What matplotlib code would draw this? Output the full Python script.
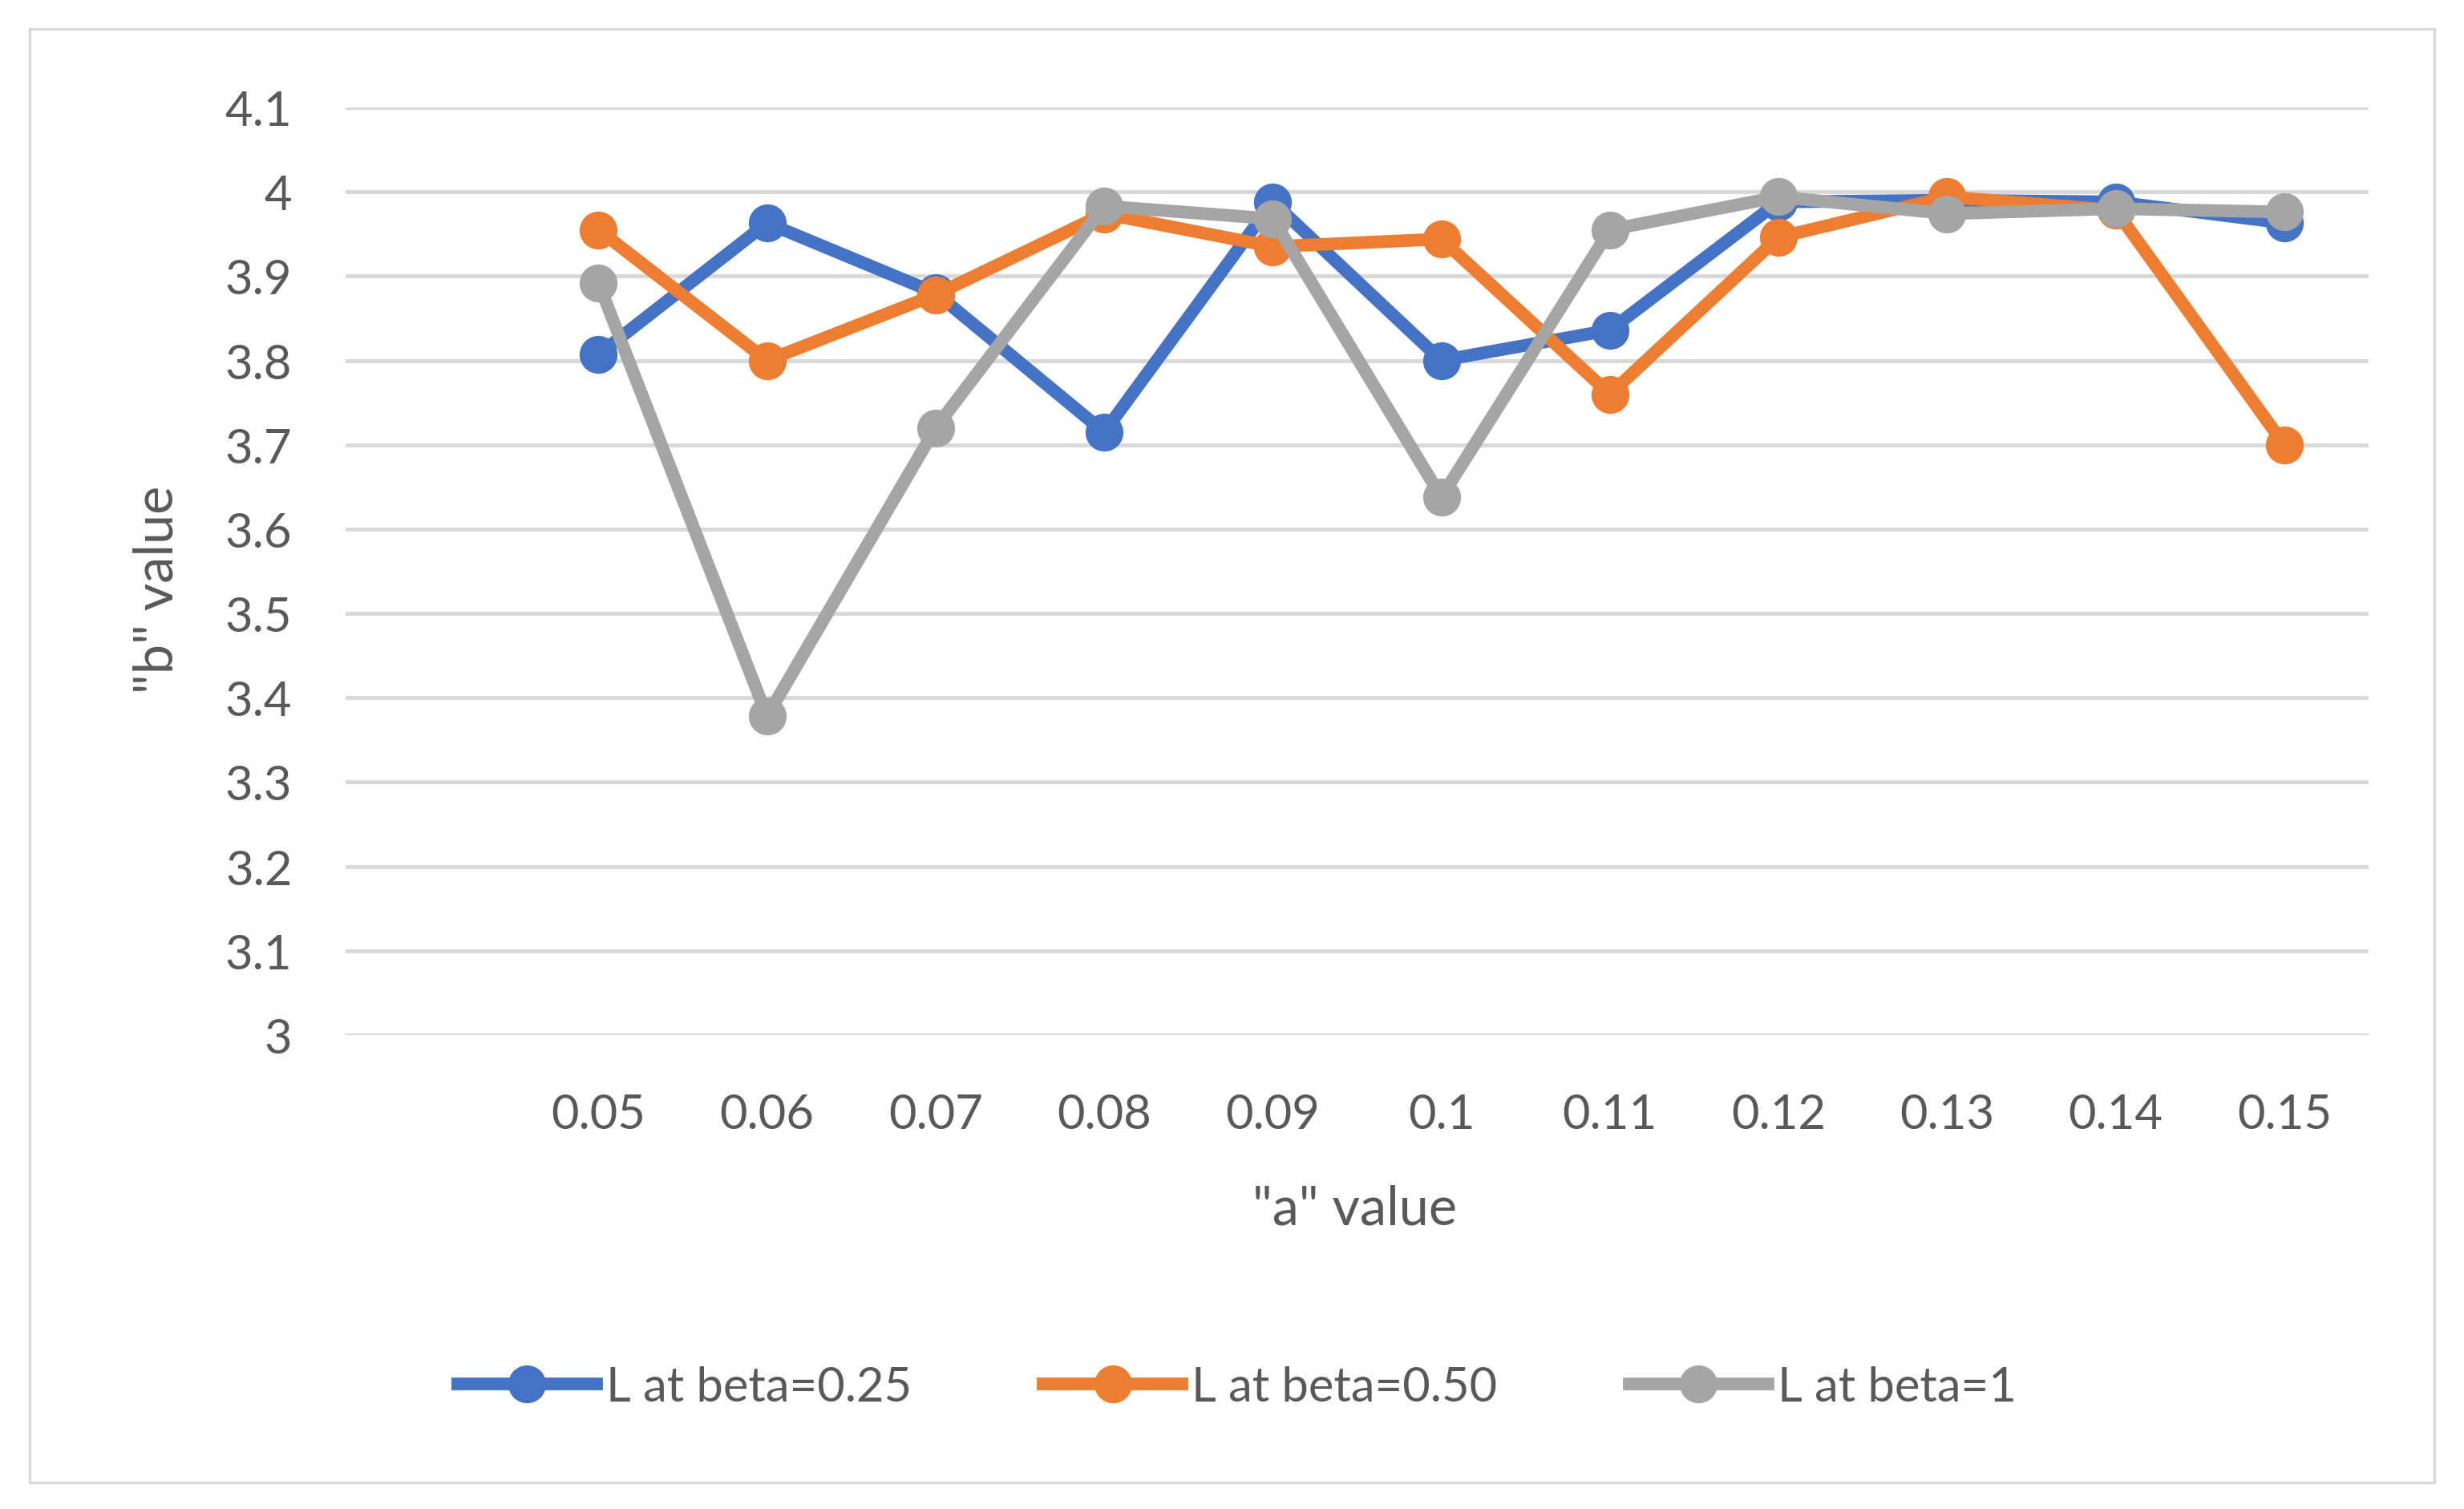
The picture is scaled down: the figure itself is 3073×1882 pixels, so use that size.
import matplotlib
matplotlib.use("Agg")
import matplotlib.pyplot as plt
from matplotlib.patches import Rectangle

plt.rcParams['font.family'] = ['Lato', 'DejaVu Sans']

# data
a_labels = ["0.05", "0.06", "0.07", "0.08", "0.09", "0.1", "0.11", "0.12", "0.13", "0.14", "0.15"]
beta_025 = [3.807, 3.963, 3.880, 3.715, 3.988, 3.800, 3.836, 3.988, 3.990, 3.988, 3.963]
beta_050 = [3.955, 3.800, 3.878, 3.974, 3.935, 3.944, 3.760, 3.946, 3.994, 3.978, 3.700]
beta_1 = [3.892, 3.378, 3.720, 3.983, 3.968, 3.638, 3.955, 3.994, 3.974, 3.980, 3.976]
y_ticks = [3, 3.1, 3.2, 3.3, 3.4, 3.5, 3.6, 3.7, 3.8, 3.9, 4, 4.1]
y_tick_labels = ["3", "3.1", "3.2", "3.3", "3.4", "3.5", "3.6", "3.7", "3.8", "3.9", "4", "4.1"]

txt = '#595959'
W, H = 3073, 1883
fig = plt.figure(figsize=(W / 200, H / 200), dpi=200)

# chart border
fig.patches.append(Rectangle((37 / W, 33 / H), (3036 - 37) / W, (1850 - 37) / H,
                             transform=fig.transFigure, fill=False,
                             edgecolor='#D9D9D9', linewidth=1.2))

ax = fig.add_axes([431 / W, 1 - 1292 / H, (2954 - 431) / W, (1292 - 135) / H])

# first category slot is empty in the original
x = list(range(1, len(a_labels) + 1))
series = [(beta_025, '#4472C4', 'L at beta=0.25'),
          (beta_050, '#ED7D31', 'L at beta=0.50'),
          (beta_1, '#A5A5A5', 'L at beta=1')]
for i, (vals, col, lab) in enumerate(series):
    ax.plot(x, vals, color=col, lw=5.7, marker='o', ms=16, label=lab,
            zorder=3 + i, solid_joinstyle='round')

ax.set_xlim(-0.5, len(a_labels) + 0.5)
ax.set_ylim(3, 4.1)
ax.set_yticks(y_ticks)
ax.set_yticklabels(y_tick_labels)
ax.set_xticks(x)
ax.set_xticklabels(a_labels)
ax.grid(axis='y', color='#D9D9D9', lw=1.8, zorder=0)
ax.set_axisbelow(True)
for s in ax.spines.values():
    s.set_visible(False)
ax.tick_params(length=0, labelsize=21.5, labelcolor=txt)
ax.tick_params(axis='y', pad=24)
ax.tick_params(axis='x', pad=26)

fig.text(1690 / W, 1 - 1509 / H, '"a" value', ha='center', va='center',
         fontsize=24, color=txt)
fig.text(196 / W, 1 - 735 / H, '"b" value', ha='center', va='center',
         fontsize=24, color=txt, rotation=90)

fig.legend(loc='center', bbox_to_anchor=(0.502, 1 - 1731 / H), ncol=3,
           frameon=False, fontsize=21.5, labelcolor=txt, handlelength=2.9,
           handletextpad=0.2, columnspacing=2.75)

fig.savefig('out.png', dpi=200, facecolor='white')
